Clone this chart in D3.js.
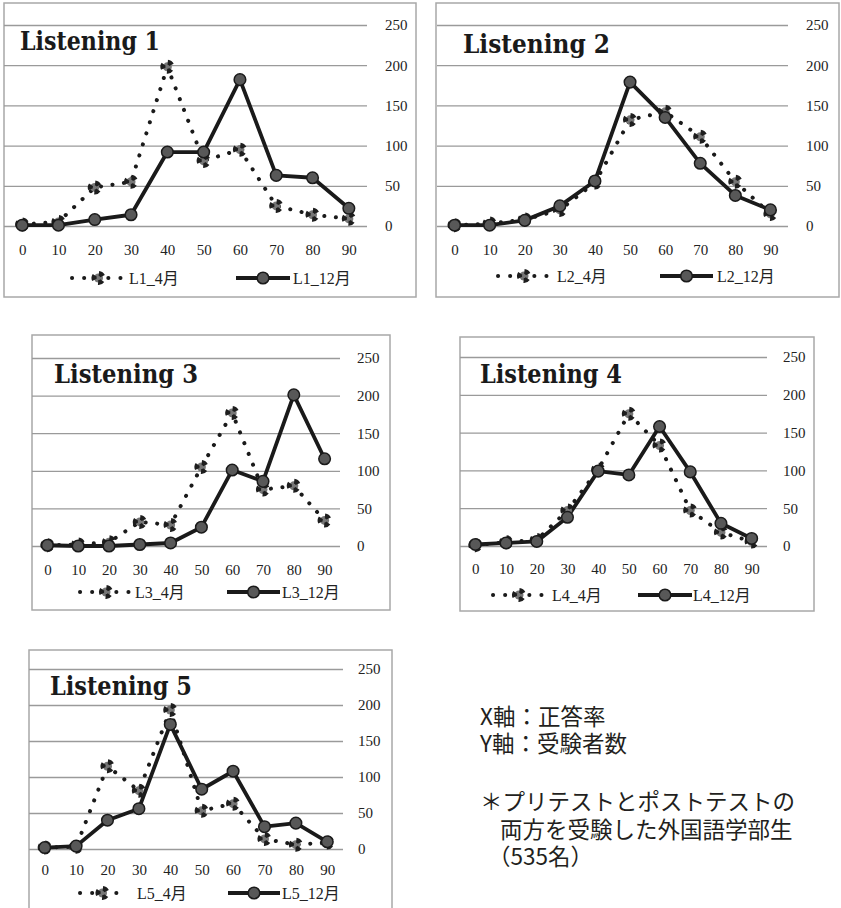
<!DOCTYPE html>
<html>
<head>
<meta charset="utf-8">
<script src="https://cdn.jsdelivr.net/npm/d3@7"></script>
<style>
  html, body { margin: 0; padding: 0; background: #fff; }
  svg { display: block; }
</style>
</head>
<body>
<svg id="chart" width="841" height="908"></svg>
<script>
// ---------------- DATA ----------------
const xLabels = [0, 10, 20, 30, 40, 50, 60, 70, 80, 90];
const yTicks = [0, 50, 100, 150, 200, 250];
const titles = ["Listening 1", "Listening 2", "Listening 3", "Listening 4", "Listening 5"];
const aprNames = ["L1_4月", "L2_4月", "L3_4月", "L4_4月", "L5_4月"];
const decNames = ["L1_12月", "L2_12月", "L3_12月", "L4_12月", "L5_12月"];

const L1_apr = [2, 5, 48, 55, 198, 81, 95, 25, 14, 9];
const L1_dec = [1, 1, 8, 14, 92, 92, 182, 63, 60, 22];
const L2_apr = [1, 3, 8, 20, 54, 132, 142, 111, 55, 15];
const L2_dec = [1, 1, 7, 25, 56, 179, 135, 78, 38, 20];
const L3_apr = [1, 2, 5, 32, 28, 105, 177, 75, 80, 34];
const L3_dec = [1, 0, 0, 2, 4, 25, 101, 86, 201, 116];
const L4_apr = [1, 5, 8, 47, 101, 175, 133, 47, 18, 6];
const L4_dec = [2, 4, 6, 38, 99, 94, 158, 98, 30, 10];
const L5_apr = [2, 3, 115, 81, 193, 53, 63, 14, 6, 9];
const L5_dec = [2, 4, 40, 56, 173, 83, 108, 31, 36, 10];

const aprSeries = [L1_apr, L2_apr, L3_apr, L4_apr, L5_apr];
const decSeries = [L1_dec, L2_dec, L3_dec, L4_dec, L5_dec];

const noteLines = [
  "X軸：正答率",
  "Y軸：受験者数",
  "＊プリテストとポストテストの",
  "両方を受験した外国語学部生",
  "（535名）"
];

// ---------------- LAYOUT ----------------
const layouts = [
  { box: [4, 3, 416, 297], px: [4, 367], y0: 226, y250: 25, yLab: 385, xLab: 250, title: [20, 50, 140],
    leg: 278, dot: [72, 125], dotText: 129, sol: [236, 290], solText: 293 },
  { box: [436, 3, 839, 297], px: [437, 788], y0: 226, y250: 25, yLab: 806, xLab: 250, title: [463, 53, 147],
    leg: 276, dot: [498, 550], dotText: 557, sol: [660, 713], solText: 717 },
  { box: [32, 335, 390, 610], px: [32, 340], y0: 546, y250: 358, yLab: 357, xLab: 570, title: [54, 383, 144],
    leg: 592, dot: [80, 132], dotText: 135, sol: [227, 280], solText: 282 },
  { box: [460, 337, 814, 611], px: [460, 767], y0: 546, y250: 357, yLab: 783, xLab: 569, title: [480, 383, 142],
    leg: 595, dot: [493, 545], dotText: 552, sol: [638, 692], solText: 693 },
  { box: [29, 650, 392, 925], px: [29, 343], y0: 849, y250: 669, yLab: 358, xLab: 870, title: [50, 695, 142],
    leg: 893, dot: [80, 125], dotText: 137, sol: [228, 280], solText: 282 }
];

const serif = "'Liberation Serif', 'Noto Sans CJK JP', serif";
const tickFs = 15;
const legFs = 16;
const svg = d3.select("#chart");

const markerPath = (() => {
  const p = d3.path();
  const rad = d => d * Math.PI / 180;
  const wedge = (a0, a1, r0, r1) => {
    p.moveTo(r0 * Math.cos(rad(a0)), r0 * Math.sin(rad(a0)));
    p.lineTo(r1 * Math.cos(rad(a0)), r1 * Math.sin(rad(a0)));
    p.arc(0, 0, r1, rad(a0), rad(a1));
    p.lineTo(r0 * Math.cos(rad(a1)), r0 * Math.sin(rad(a1)));
    p.arc(0, 0, r0, rad(a1), rad(a0), true);
    p.closePath();
  };
  wedge(-85, -25, 2, 7);
  wedge(35, 95, 2, 7);
  wedge(155, 215, 2, 7);
  return p.toString();
})();

function drawAprMarker(g, x, y) {
  const m = g.append("g").attr("transform", `translate(${x},${y})`);
  m.append("circle").attr("r", 4.5).attr("fill", "#767676");
  m.append("path").attr("d", markerPath).attr("fill", "#1e1e1e");
}
function drawDecMarker(g, x, y) {
  g.append("circle").attr("cx", x).attr("cy", y).attr("r", 5.8)
    .attr("fill", "#585858").attr("stroke", "#1a1a1a").attr("stroke-width", 1.5);
}

layouts.forEach((L, i) => {
  const g = svg.append("g");
  const [bx0, by0, bx1, by1] = L.box;
  g.append("rect").attr("x", bx0).attr("y", by0).attr("width", bx1 - bx0).attr("height", by1 - by0)
    .attr("fill", "#fff").attr("stroke", "#a8a8a8").attr("stroke-width", 1.5);

  const x = d3.scalePoint().domain(xLabels).range(L.px).padding(0.5);
  const y = d3.scaleLinear().domain([0, 250]).range([L.y0, L.y250]);

  // y axis with gridlines
  const ya = g.append("g").attr("transform", `translate(${L.px[1]},0)`)
    .call(d3.axisRight(y).tickValues(yTicks).tickSize(-(L.px[1] - L.px[0])).tickPadding(L.yLab - L.px[1]));
  ya.select(".domain").remove();
  ya.selectAll(".tick line").attr("stroke", "#9a9a9a").attr("stroke-width", 1.3);
  ya.selectAll(".tick text").attr("font-family", serif).attr("font-size", tickFs).attr("fill", "#222");

  // x axis labels
  const xa = g.append("g").attr("transform", `translate(0,${L.y0})`)
    .call(d3.axisBottom(x).tickSize(0).tickPadding(L.xLab - L.y0 - 0.36 * tickFs));
  xa.select(".domain").remove();
  xa.selectAll(".tick text").attr("font-family", serif).attr("font-size", tickFs).attr("fill", "#222");

  // title
  g.append("text").attr("x", L.title[0]).attr("y", L.title[1]).text(titles[i])
    .attr("font-family", "'DejaVu Serif', serif").attr("font-weight", "bold")
    .attr("font-size", 26).attr("fill", "#1a1a1a")
    .attr("textLength", L.title[2]).attr("lengthAdjust", "spacingAndGlyphs");

  const lineGen = d3.line().x((d, j) => x(xLabels[j])).y(d => y(d));

  // April (dotted)
  g.append("path").attr("d", lineGen(aprSeries[i])).attr("fill", "none")
    .attr("stroke", "#1a1a1a").attr("stroke-width", 4).attr("stroke-linecap", "round")
    .attr("stroke-dasharray", "0.1 11.5");
  // December (solid)
  g.append("path").attr("d", lineGen(decSeries[i])).attr("fill", "none")
    .attr("stroke", "#1a1a1a").attr("stroke-width", 3.8).attr("stroke-linejoin", "round");

  aprSeries[i].forEach((v, j) => drawAprMarker(g, x(xLabels[j]), y(v)));
  decSeries[i].forEach((v, j) => drawDecMarker(g, x(xLabels[j]), y(v)));

  // legend
  g.append("line").attr("x1", L.dot[0]).attr("x2", L.dot[1]).attr("y1", L.leg).attr("y2", L.leg)
    .attr("stroke", "#1a1a1a").attr("stroke-width", 4).attr("stroke-linecap", "round")
    .attr("stroke-dasharray", "0.1 12");
  drawAprMarker(g, (L.dot[0] + L.dot[1]) / 2, L.leg);
  g.append("text").attr("x", L.dotText).attr("y", L.leg).attr("dy", "0.36em").text(aprNames[i])
    .attr("font-family", serif).attr("font-size", legFs).attr("fill", "#222");

  g.append("line").attr("x1", L.sol[0]).attr("x2", L.sol[1]).attr("y1", L.leg).attr("y2", L.leg)
    .attr("stroke", "#1a1a1a").attr("stroke-width", 3.8);
  drawDecMarker(g, (L.sol[0] + L.sol[1]) / 2, L.leg);
  g.append("text").attr("x", L.solText).attr("y", L.leg).attr("dy", "0.36em").text(decNames[i])
    .attr("font-family", serif).attr("font-size", legFs).attr("fill", "#222");
});

// notes
const notePos = [[480, 725], [480, 752], [480, 810], [500, 838], [488, 865]];
svg.append("g").selectAll("text").data(noteLines).join("text")
  .attr("x", (d, i) => notePos[i][0]).attr("y", (d, i) => notePos[i][1])
  .attr("font-family", "'Noto Sans CJK JP', sans-serif").attr("font-size", 22.5)
  .attr("fill", "#231f20").text(d => d);
</script>
</body>
</html>
